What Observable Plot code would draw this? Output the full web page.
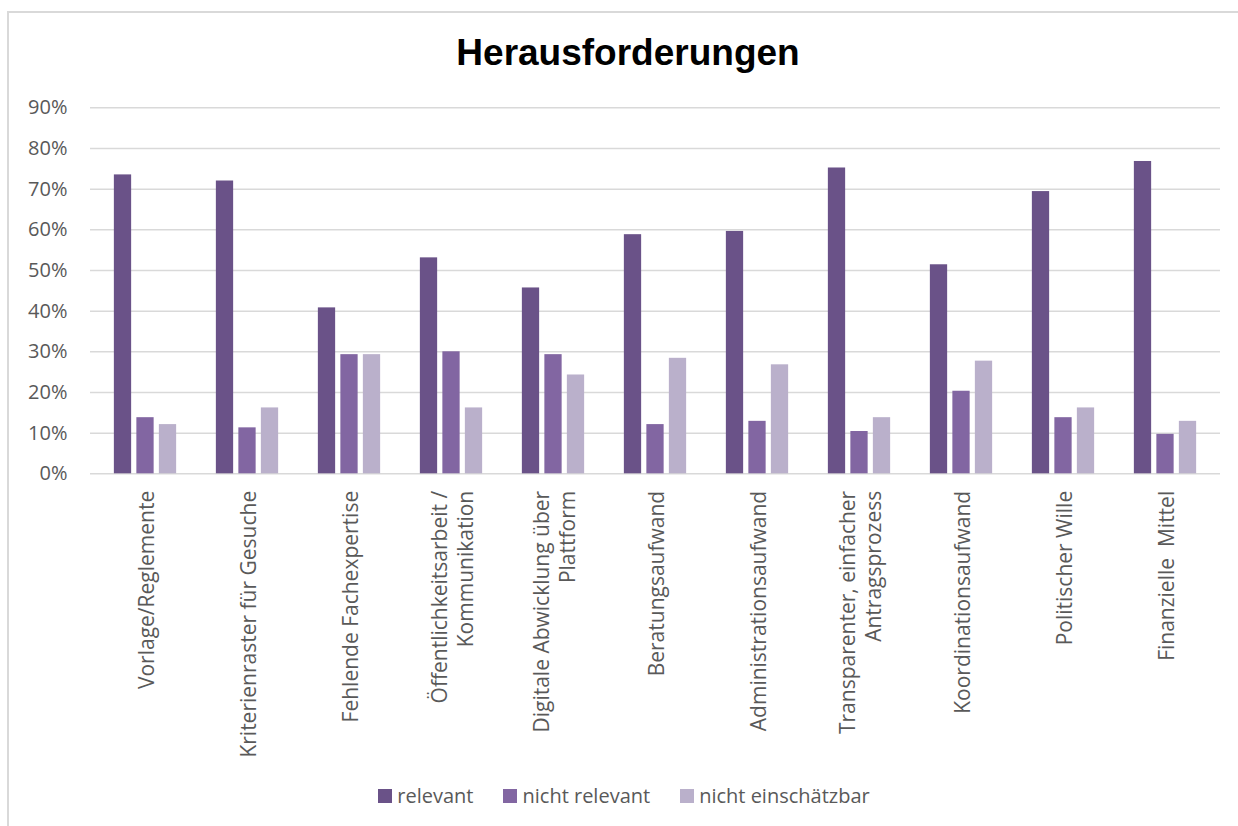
<!DOCTYPE html>
<html>
<head>
<meta charset="utf-8">
<script src="https://cdn.jsdelivr.net/npm/d3@7"></script>
<script src="https://cdn.jsdelivr.net/npm/@observablehq/plot@0.6"></script>
<style>
  html, body { margin: 0; padding: 0; background: #fff; overflow: hidden; }
  body { width: 1238px; height: 826px; position: relative; }
  #frame { position: absolute; left: 7px; top: 11px; width: 1260px; height: 840px; border: 2px solid #d9d9d9; box-sizing: border-box; }
  #title { position: absolute; left: 0; top: 32px; width: 1256px; text-align: center; font-family: "Liberation Sans", Arial, sans-serif; font-weight: bold; font-size: 37px; line-height: 42px; color: #000; }
  #chart { position: absolute; left: 0; top: 80px; }
  #chart svg text { white-space: pre; }
  #legend { position: absolute; left: 0; top: 779px; width: 1248px; display: flex; justify-content: center; }
  .lg-swatches { margin: 0 !important; }
  .lg-swatch { margin-right: 30px !important; }
  .lg-swatch:last-child { margin-right: 0 !important; }
  .lg-swatch > svg { margin-right: 5px !important; }
</style>
</head>
<body>
<div id="frame"></div>
<div id="title">Herausforderungen</div>
<div id="chart"></div>
<div id="legend"></div>
<script>
const categories = [
  "Vorlage/Reglemente",
  "Kriterienraster für Gesuche",
  "Fehlende Fachexpertise",
  "Öffentlichkeitsarbeit / Kommunikation",
  "Digitale Abwicklung über Plattform",
  "Beratungsaufwand",
  "Administrationsaufwand",
  "Transparenter, einfacher Antragsprozess",
  "Koordinationsaufwand",
  "Politischer Wille",
  "Finanzielle  Mittel"
];
const tickLabels = [
  "Vorlage/Reglemente",
  "Kriterienraster für Gesuche",
  "Fehlende Fachexpertise",
  "Öffentlichkeitsarbeit /\nKommunikation",
  "Digitale Abwicklung über\nPlattform",
  "Beratungsaufwand",
  "Administrationsaufwand",
  "Transparenter, einfacher\nAntragsprozess",
  "Koordinationsaufwand",
  "Politischer Wille",
  "Finanzielle  Mittel"
];
const series = ["relevant", "nicht relevant", "nicht einschätzbar"];
const relevant           = [0.735, 0.720, 0.408, 0.531, 0.457, 0.588, 0.596, 0.752, 0.514, 0.694, 0.768];
const nichtRelevant      = [0.138, 0.113, 0.293, 0.300, 0.293, 0.121, 0.129, 0.104, 0.203, 0.138, 0.097];
const nichtEinschaetzbar = [0.121, 0.162, 0.293, 0.162, 0.243, 0.284, 0.268, 0.138, 0.277, 0.162, 0.129];
const yTicks = [0, 0.1, 0.2, 0.3, 0.4, 0.5, 0.6, 0.7, 0.8, 0.9];
const colors = ["#6a5288", "#8266a2", "#bab0cb"];

const seriesValues = [relevant, nichtRelevant, nichtEinschaetzbar];
const rows = seriesValues.map((vals, s) => categories.map((c, i) => ({cat: c, series: series[s], v: vals[i]})));

const W = 1238, H = 690;
const mL = 90, mR = 18, mT = 27.3, mB = 296.7;
const step = (W - mL - mR) / categories.length;
const barW = 18, barGap = 22.5;
const inset = (step - barW) / 2;
const offsets = [-barGap, 0, barGap];

const chart = Plot.plot({
  width: W,
  height: H,
  marginLeft: mL,
  marginRight: mR,
  marginTop: mT,
  marginBottom: mB,
  style: {fontFamily: "'Open Sans', sans-serif", fontSize: "20px", color: "#595959", background: "transparent", overflow: "visible"},
  x: {domain: categories, padding: 0, axis: null},
  y: {domain: [0, 0.9], axis: null},
  color: {domain: series, range: colors},
  marks: [
    Plot.gridY(yTicks, {stroke: "#d9d9d9", strokeOpacity: 1, strokeWidth: 1.5}),
    Plot.axisY(yTicks, {tickSize: 0, tickPadding: 23, tickFormat: d => Math.round(d * 100) + "%", fontSize: 20, color: "#595959", label: null}),
    ...rows.map((data, s) => Plot.barY(data, {
      x: "cat", y: "v", fill: "series", dx: offsets[s],
      insetLeft: inset, insetRight: inset
    })),
    Plot.text(categories, {
      x: d => d, text: (d, i) => tickLabels[i], frameAnchor: "bottom",
      rotate: -90, textAnchor: "end", lineAnchor: "middle", dy: 17,
      fontSize: 21, fill: "#595959", lineHeight: 1.24
    })
  ]
});
document.getElementById("chart").appendChild(chart);

const legend = Plot.legend({
  color: {domain: series, range: colors},
  swatchSize: 14,
  className: "lg",
  style: {fontFamily: "'Open Sans', sans-serif", fontSize: "20px", color: "#595959"}
});
document.getElementById("legend").appendChild(legend);
</script>
</body>
</html>
